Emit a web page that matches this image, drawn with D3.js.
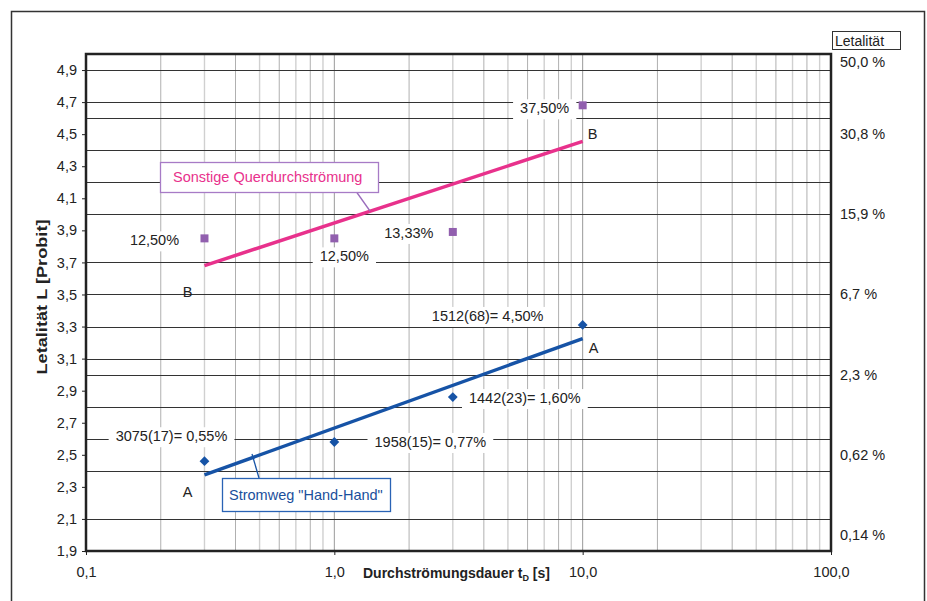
<!DOCTYPE html>
<html>
<head>
<meta charset="utf-8">
<script src="https://cdn.jsdelivr.net/npm/d3@7"></script>
<style>
  body { margin: 0; background: #fff; }
  svg text { font-family: "Liberation Sans", Arial, sans-serif; fill: #222; }
</style>
</head>
<body>
<div class="container"></div>
<script>
// data
const durations = [0.3, 1, 3, 10];
const probitA = [2.46, 2.58, 2.86, 3.31];
const labelsA = ["3075(17)= 0,55%", "1958(15)= 0,77%", "1442(23)= 1,60%", "1512(68)= 4,50%"];
const probitB = [3.85, 3.85, 3.89, 4.68];
const labelsB = ["12,50%", "12,50%", "13,33%", "37,50%"];
const fitA = [[0.3, 2.375], [10, 3.225]];
const fitB = [[0.3, 3.68], [10, 4.455]];

const yTicks = [4.9, 4.7, 4.5, 4.3, 4.1, 3.9, 3.7, 3.5, 3.3, 3.1, 2.9, 2.7, 2.5, 2.3, 2.1, 1.9];
const yGrid = [4.9, 4.7, 4.6, 4.4, 4.2, 4.0, 3.7, 3.5, 3.3, 3.1, 3.0, 2.8, 2.6, 2.4, 2.1];
const rightTicks = [5.0, 4.5, 4.0, 3.5, 3.0, 2.5, 2.0];
const rightLabels = ["50,0 %", "30,8 %", "15,9 %", "6,7 %", "2,3 %", "0,62 %", "0,14 %"];
const xTicks = [0.1, 1, 10, 100];
const xTickLabels = ["0,1", "1,0", "10,0", "100,0"];

// label offsets from their point (px)
const offA = [[-33, -25], [96, 0], [72, 1], [-95, -9]];
const offB = [[-50, 2], [10, 18], [-44, 1], [-38, 3]];

const W = 927, H = 601;
const margin = { top: 54, right: 96, bottom: 50, left: 86 };

const svg = d3.select(".container").append("svg")
  .attr("width", W).attr("height", H);

// outer frame
svg.append("rect")
  .attr("x", 11.5).attr("y", 11.5).attr("width", 913).attr("height", 620)
  .attr("fill", "none").attr("stroke", "#333").attr("stroke-width", 1.5);

const x = d3.scaleLog().domain([0.1, 100]).range([margin.left, W - margin.right]);
const y = d3.scaleLinear().domain([1.9, 5.0]).range([H - margin.bottom, margin.top]);

const fmt = v => d3.format(".1f")(v).replace(".", ",");

// vertical grid
const minor = [];
[0.1, 1, 10].forEach(d => { for (let k = 2; k <= 9; k++) minor.push(d * k); });
svg.append("g").selectAll("line").data(minor).enter().append("line")
  .attr("x1", d => x(d)).attr("x2", d => x(d))
  .attr("y1", y(5.0)).attr("y2", y(1.9))
  .attr("stroke", (d, i) => i % 2 ? "#d0d0d0" : "#b0b0b0")
  .attr("stroke-width", (d, i) => i % 2 ? 1.4 : 1);
svg.append("g").selectAll("line").data([1, 10]).enter().append("line")
  .attr("x1", d => x(d)).attr("x2", d => x(d))
  .attr("y1", y(5.0)).attr("y2", y(1.9))
  .attr("stroke", "#9a9a9a").attr("stroke-width", 1);

// horizontal grid
svg.append("g").selectAll("line").data(yGrid).enter().append("line")
  .attr("x1", x(0.1)).attr("x2", x(100))
  .attr("y1", d => Math.round(y(d)) + 0.5).attr("y2", d => Math.round(y(d)) + 0.5)
  .attr("stroke", "#333").attr("stroke-width", 1);

// left axis
const yAxis = svg.append("g").attr("transform", `translate(${margin.left},0)`)
  .call(d3.axisLeft(y).tickValues(yTicks).tickSize(4).tickFormat(fmt));
yAxis.select(".domain").remove();
yAxis.selectAll("line").attr("stroke", "#222");
yAxis.selectAll("text").attr("font-size", 14.5).attr("fill", "#222")
  .style("font-family", '"Liberation Sans", Arial, sans-serif').attr("x", -9);

// bottom axis
const xAxis = svg.append("g").attr("transform", `translate(0,${H - margin.bottom})`)
  .call(d3.axisBottom(x).tickValues(xTicks).tickSize(4).tickFormat((d, i) => xTickLabels[i]));
xAxis.select(".domain").remove();
xAxis.selectAll("line").attr("stroke", "#222");
xAxis.selectAll("text").attr("font-size", 14.5).attr("fill", "#222").attr("y", 16)
  .style("font-family", '"Liberation Sans", Arial, sans-serif');

// right axis labels
svg.append("g").selectAll("text").data(rightTicks).enter().append("text")
  .attr("x", x(100) + 9)
  .attr("y", d => Math.max(y(d), margin.top + 8) + 5)
  .attr("font-size", 14.5)
  .text((d, i) => rightLabels[i]);

// Letalität box
svg.append("rect").attr("x", 832.5).attr("y", 31.5).attr("width", 68).attr("height", 18)
  .attr("fill", "#fff").attr("stroke", "#333").attr("stroke-width", 1);
svg.append("text").attr("x", 835).attr("y", 45.5).attr("font-size", 14).text("Letalität");

// axis titles
svg.append("text")
  .attr("transform", `translate(47,${297}) rotate(-90)`)
  .attr("text-anchor", "middle").attr("font-size", 15).attr("font-weight", "bold")
  .attr("textLength", 155).attr("lengthAdjust", "spacingAndGlyphs")
  .text("Letalität L [Probit]");

const xt = svg.append("text").attr("x", 363).attr("y", 578)
  .attr("font-size", 14).attr("font-weight", "bold");
xt.append("tspan").text("Durchströmungsdauer t");
xt.append("tspan").attr("font-size", 9).attr("dy", 3).text("D");
xt.append("tspan").attr("dy", -3).text(" [s]");

// labels with white background
function addLabel(cx, cy, txt) {
  const g = svg.append("g");
  const t = g.append("text").attr("x", cx).attr("y", cy + 5)
    .attr("text-anchor", "middle").attr("font-size", 14.5).text(txt);
  const bb = t.node().getBBox();
  g.insert("rect", "text")
    .attr("x", bb.x - 7).attr("y", cy - 9).attr("width", bb.width + 14).attr("height", 20)
    .attr("fill", "#fff");
}
durations.forEach((d, i) => addLabel(x(d) + offA[i][0], y(probitA[i]) + offA[i][1], labelsA[i]));
durations.forEach((d, i) => addLabel(x(d) + offB[i][0], y(probitB[i]) + offB[i][1], labelsB[i]));

// fit lines
const line = d3.line().x(d => x(d[0])).y(d => y(d[1]));
svg.append("path").attr("d", line(fitB)).attr("fill", "none")
  .attr("stroke", "#e8318c").attr("stroke-width", 3.5);
svg.append("path").attr("d", line(fitA)).attr("fill", "none")
  .attr("stroke", "#1653a6").attr("stroke-width", 3.5);

// markers
svg.append("g").selectAll("path").data(durations).enter().append("path")
  .attr("d", d3.symbol(d3.symbolSquare, 64))
  .attr("transform", (d, i) => `translate(${x(d)},${y(probitB[i])})`)
  .attr("fill", "#915fae");
svg.append("g").selectAll("path").data(durations).enter().append("path")
  .attr("d", d3.symbol(d3.symbolSquare, 48))
  .attr("transform", (d, i) => `translate(${x(d)},${y(probitA[i])}) rotate(45)`)
  .attr("fill", "#1653a6");

// A / B end letters
const ends = [
  { t: "B", p: fitB[0], dx: -17, dy: 26 },
  { t: "B", p: fitB[1], dx: 10, dy: -7 },
  { t: "A", p: fitA[0], dx: -17, dy: 17 },
  { t: "A", p: fitA[1], dx: 11, dy: 9 }
];
svg.append("g").selectAll("text").data(ends).enter().append("text")
  .attr("x", d => x(d.p[0]) + d.dx).attr("y", d => y(d.p[1]) + d.dy + 5)
  .attr("text-anchor", "middle").attr("font-size", 14.5).text(d => d.t);

// callout boxes
svg.append("line").attr("x1", 353).attr("y1", 187).attr("x2", 370).attr("y2", 211)
  .attr("stroke", "#9a6cbc").attr("stroke-width", 1.3);
svg.append("rect").attr("x", 160.5).attr("y", 162.5).attr("width", 218).attr("height", 30)
  .attr("fill", "#fff").attr("stroke", "#a77bc6").attr("stroke-width", 1.3);
svg.append("text").attr("x", 173).attr("y", 182).attr("font-size", 14.5)
  .style("fill", "#e8318c").text("Sonstige Querdurchströmung");

svg.append("line").attr("x1", 252).attr("y1", 454).attr("x2", 259).attr("y2", 478)
  .attr("stroke", "#1653a6").attr("stroke-width", 1.3);
svg.append("rect").attr("x", 222.5).attr("y", 478.5).attr("width", 168).attr("height", 33)
  .attr("fill", "#fff").attr("stroke", "#2a63b5").attr("stroke-width", 1.3);
svg.append("text").attr("x", 229).attr("y", 500).attr("font-size", 14.5)
  .style("fill", "#1a4f9c").text('Stromweg "Hand-Hand"');

// plot border
svg.append("rect")
  .attr("x", x(0.1)).attr("y", y(5.0))
  .attr("width", x(100) - x(0.1)).attr("height", y(1.9) - y(5.0))
  .attr("fill", "none").attr("stroke", "#222").attr("stroke-width", 2.5);
</script>
</body>
</html>
